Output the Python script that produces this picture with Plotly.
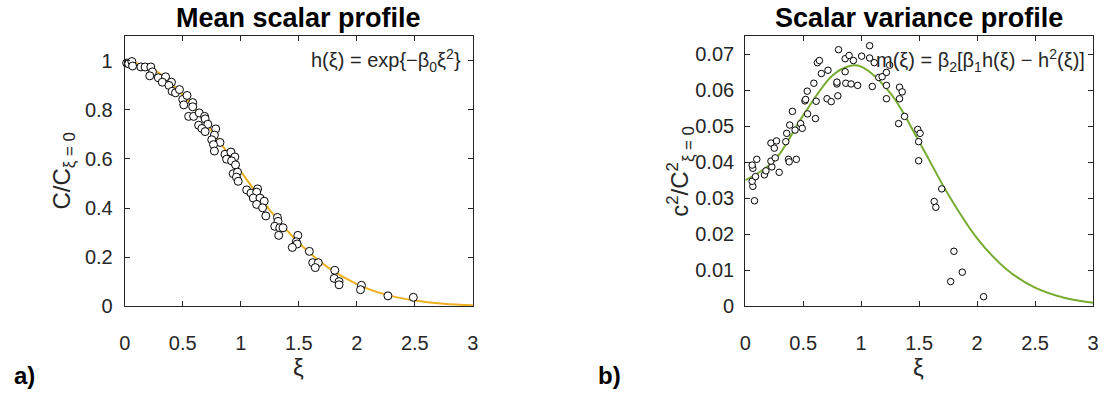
import plotly.graph_objects as go

# ---- data: mean scalar profile (panel a) ----
xi_mean = [0.017, 0.034, 0.062, 0.068, 0.139, 0.176, 0.225, 0.239, 0.216, 0.29, 0.352, 0.324,
           0.403, 0.381, 0.409, 0.438, 0.472, 0.50, 0.537, 0.509, 0.586, 0.586, 0.551, 0.594,
           0.642, 0.688, 0.693, 0.716, 0.637, 0.665, 0.693, 0.784, 0.773, 0.75, 0.821, 0.765,
           0.773, 0.864, 0.878, 0.915, 0.949, 0.921, 0.955, 0.935, 0.972, 0.963, 0.978,
           1.051, 1.088, 1.145, 1.137, 1.108, 1.165, 1.137, 1.202, 1.188, 1.216, 1.316, 1.321,
           1.293, 1.336, 1.364, 1.327, 1.492, 1.478, 1.486, 1.444, 1.591, 1.62, 1.668, 1.642,
           1.81, 1.805, 1.847, 1.847, 2.04, 2.032, 2.268, 2.487]
c_mean = [0.990, 0.987, 0.996, 0.978, 0.974, 0.974, 0.974, 0.954, 0.938, 0.930, 0.934, 0.912,
          0.912, 0.899, 0.875, 0.869, 0.882, 0.842, 0.858, 0.820, 0.829, 0.812, 0.773, 0.773,
          0.787, 0.773, 0.763, 0.741, 0.737, 0.724, 0.711, 0.722, 0.697, 0.678, 0.667, 0.658,
          0.632, 0.619, 0.599, 0.628, 0.608, 0.592, 0.576, 0.540, 0.546, 0.526, 0.509,
          0.474, 0.461, 0.478, 0.465, 0.441, 0.441, 0.415, 0.428, 0.401, 0.368, 0.362, 0.346,
          0.326, 0.320, 0.320, 0.289, 0.289, 0.263, 0.254, 0.240, 0.224, 0.178, 0.178, 0.158,
          0.147, 0.114, 0.101, 0.088, 0.086, 0.068, 0.043, 0.037]

# fitted curve h(xi)
xi_fit = [0, 0.25, 0.5, 0.75, 1.0, 1.25, 1.5, 1.75, 2.0, 2.25, 2.5, 2.75, 3.0]
h_fit = [1.0, 0.963, 0.861, 0.714, 0.549, 0.392, 0.259, 0.159, 0.091, 0.048, 0.024, 0.011, 0.0045]

# ---- data: scalar variance profile (panel b) ----
xi_var = [0.080, 0.066, 0.060, 0.066, 0.060, 0.100, 0.089, 0.166, 0.179, 0.230, 0.222, 0.259,
          0.293, 0.222, 0.251, 0.270, 0.373, 0.379, 0.441, 0.350, 0.358, 0.384, 0.430, 0.407,
          0.478, 0.492, 0.515, 0.521, 0.538, 0.535, 0.606, 0.612, 0.592, 0.623, 0.640, 0.657,
          0.714, 0.706, 0.742, 0.791, 0.791, 0.799, 0.805, 0.862, 0.862, 0.896, 0.868, 0.913,
          0.933, 0.970, 1.004, 1.073, 1.073, 1.113, 1.096, 1.152, 1.181, 1.218, 1.246, 1.218,
          1.218, 1.331, 1.331, 1.323, 1.354, 1.374, 1.488, 1.508, 1.496, 1.496, 1.695, 1.630,
          1.644, 1.80, 1.872, 1.772, 2.056]
c_var = [0.0293, 0.0333, 0.0347, 0.0383, 0.0392, 0.0408, 0.0360, 0.0365, 0.0376, 0.0387, 0.0403,
         0.0412, 0.0372, 0.0453, 0.0439, 0.0459, 0.0408, 0.0401, 0.0408, 0.0457, 0.0480, 0.0503,
         0.0489, 0.0541, 0.0507, 0.0494, 0.0570, 0.0574, 0.0534, 0.0597, 0.0521, 0.0569, 0.0619,
         0.0676, 0.0682, 0.0646, 0.0655, 0.0576, 0.0568, 0.0617, 0.0622, 0.0584, 0.0712, 0.0651,
         0.0687, 0.0696, 0.0619, 0.0617, 0.0682, 0.0613, 0.0694, 0.0723, 0.0689, 0.0676, 0.0610,
         0.0635, 0.0637, 0.0649, 0.0669, 0.0613, 0.0576, 0.0608, 0.0576, 0.0507, 0.0595, 0.0527,
         0.0491, 0.0480, 0.0457, 0.0404, 0.0326, 0.0291, 0.0275, 0.0153, 0.0095, 0.0069, 0.0027]

xi_mfit = [0, 0.25, 0.5, 0.75, 0.9, 1.0, 1.25, 1.5, 1.75, 2.0, 2.25, 2.5, 2.75, 3.0]
m_fit = [0.0350, 0.0404, 0.0530, 0.0640, 0.0667, 0.0665, 0.0592, 0.0457, 0.0311, 0.0189,
         0.0104, 0.0052, 0.0024, 0.0010]

x_ticks = [0, 0.5, 1, 1.5, 2, 2.5, 3]
x_ticktext = ["0", "0.5", "1", "1.5", "2", "2.5", "3"]
ya_ticks = [0, 0.2, 0.4, 0.6, 0.8, 1.0]
ya_ticktext = ["0", "0.2", "0.4", "0.6", "0.8", "1"]
yb_ticks = [0, 0.01, 0.02, 0.03, 0.04, 0.05, 0.06, 0.07]
yb_ticktext = ["0", "0.01", "0.02", "0.03", "0.04", "0.05", "0.06", "0.07"]

FONT = "Liberation Sans, Arial, Helvetica, sans-serif"
AX = "#262626"
W, H = 1106, 404

fig = go.Figure()
fig.add_trace(go.Scatter(x=xi_fit, y=h_fit, mode="lines", line=dict(color="#EDB120", width=2, shape="spline"),
                         xaxis="x", yaxis="y", showlegend=False, hoverinfo="skip"))
fig.add_trace(go.Scatter(x=xi_mean, y=c_mean, mode="markers", cliponaxis=False,
                         marker=dict(symbol="circle", size=8, color="white", line=dict(color="black", width=1)),
                         xaxis="x", yaxis="y", showlegend=False))
fig.add_trace(go.Scatter(x=xi_mfit, y=m_fit, mode="lines", line=dict(color="#77AC30", width=2, shape="spline"),
                         xaxis="x2", yaxis="y2", showlegend=False, hoverinfo="skip"))
fig.add_trace(go.Scatter(x=xi_var, y=c_var, mode="markers", cliponaxis=False,
                         marker=dict(symbol="circle", size=6.5, color="white", line=dict(color="black", width=1)),
                         xaxis="x2", yaxis="y2", showlegend=False))

ydom = [1 - 315 / H, 1 - 37 / H]
common = dict(showline=True, linecolor=AX, linewidth=1, mirror="ticks", ticks="inside", ticklen=5,
              tickcolor=AX, showgrid=False, zeroline=False, tickfont=dict(family=FONT, size=20, color=AX))

fig.update_layout(
    width=W, height=H, margin=dict(l=0, r=0, t=0, b=0),
    paper_bgcolor="white", plot_bgcolor="white",
    xaxis=dict(domain=[120 / W, 472 / W], range=[0, 3], tickvals=x_ticks, ticktext=x_ticktext,
               anchor="y", ticklabelstandoff=19, **common),
    yaxis=dict(domain=ydom, range=[0, 1.1], tickvals=ya_ticks, ticktext=ya_ticktext,
               anchor="x", ticklabelstandoff=7, **common),
    xaxis2=dict(domain=[747.3 / W, 1099 / W], range=[0, 3], tickvals=x_ticks, ticktext=x_ticktext,
                anchor="y2", ticklabelstandoff=19, **common),
    yaxis2=dict(domain=ydom, range=[0, 0.075], tickvals=yb_ticks, ticktext=yb_ticktext,
                anchor="x2", ticklabelstandoff=6, **common),
)

def ann(text, x, y, size, bold=False, xanchor="center", angle=0, color="black"):
    if bold:
        text = "<b>" + text + "</b>"
    fig.add_annotation(text=text, x=x / W, y=1 - y / H, xref="paper", yref="paper", showarrow=False,
                       xanchor=xanchor, yanchor="middle", textangle=angle,
                       font=dict(family=FONT, size=size, color=color))

ann("Mean scalar profile", 296, 18, 27, bold=True)
ann("Scalar variance profile", 923, 18, 27, bold=True)
ann("h(ξ) = exp{−β<sub>0</sub>ξ<sup>2</sup>}", 462, 62, 20, xanchor="right", color=AX)
ann("m(ξ) = β<sub>2</sub>[β<sub>1</sub>h(ξ) − h<sup>2</sup>(ξ)]", 1093, 62, 20, xanchor="right", color=AX)
ann("C/C<sub>ξ = 0</sub>", 58, 176, 24, angle=-90, color=AX)
ann("c<sup>2</sup>/C<sup>2</sup><sub>ξ = 0</sub>", 682, 176, 24, angle=-90, color=AX)
ann("ξ", 296, 378, 24, color=AX)
ann("ξ", 923, 378, 24, color=AX)
ann("a)", 19, 386, 24, bold=True)
ann("b)", 610, 386, 24, bold=True)

fig.write_html("out.html")
